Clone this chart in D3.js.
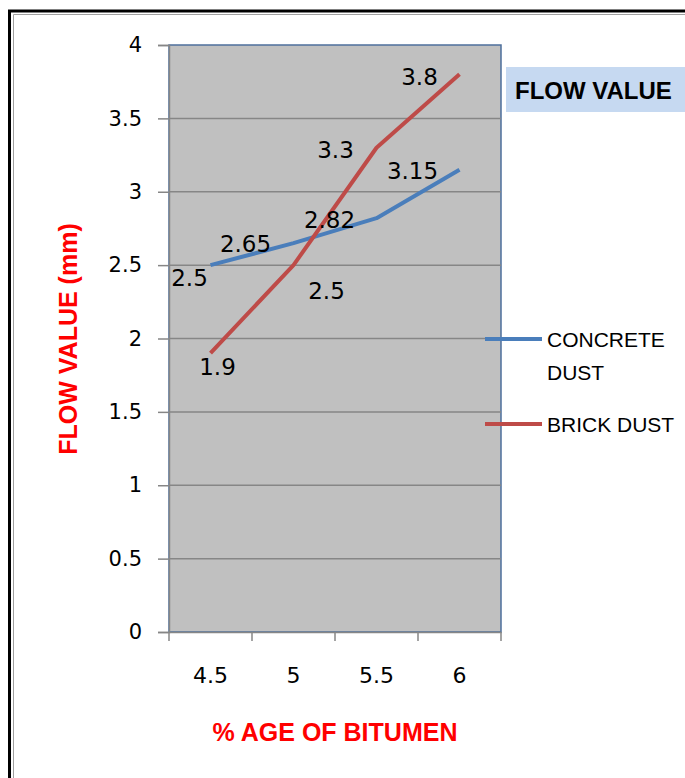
<!DOCTYPE html>
<html>
<head>
<meta charset="utf-8">
<script src="https://cdn.jsdelivr.net/npm/d3@7"></script>
<style>
  body { margin: 0; background: #fff; }
  svg { display: block; }
</style>
</head>
<body>
<div id="chart"></div>
<script>
var categories = ["4.5", "5", "5.5", "6"];
var concreteDust = [2.5, 2.65, 2.82, 3.15];
var brickDust = [1.9, 2.5, 3.3, 3.8];
var yTicks = [0, 0.5, 1, 1.5, 2, 2.5, 3, 3.5, 4];
var seriesNames = ["CONCRETE DUST", "BRICK DUST"];

// label offsets (px) relative to each point
var concreteLabelOffset = [[-21, 13], [-48, 1], [-47, 2], [-47, 1]];
var brickLabelOffset = [[7, 14], [33, 26], [-41, 2], [-40, 3]];

var width = 685, height = 778;
var plot = { left: 169, right: 501, top: 45, bottom: 632 };

var svg = d3.select("#chart").append("svg")
  .attr("width", width)
  .attr("height", height);

// frame
svg.append("path")
  .attr("d", "M9.5," + height + " V11 H" + width)
  .attr("fill", "none")
  .attr("stroke", "#000")
  .attr("stroke-width", 3);
svg.append("path")
  .attr("d", "M13.5," + height + " V14.5 H" + width)
  .attr("fill", "none")
  .attr("stroke", "#a0a0a0")
  .attr("stroke-width", 1);

var x = d3.scaleBand()
  .domain(categories)
  .range([plot.left, plot.right])
  .padding(0);

var y = d3.scaleLinear()
  .domain([0, 4])
  .range([plot.bottom, plot.top]);

// plot area
svg.append("rect")
  .attr("x", plot.left)
  .attr("y", plot.top)
  .attr("width", plot.right - plot.left)
  .attr("height", plot.bottom - plot.top)
  .attr("fill", "#c0c0c0")
  .attr("stroke", "#4d6f9c")
  .attr("stroke-width", 1.5);

// gridlines
svg.append("g")
  .selectAll("line")
  .data(yTicks.filter(function(d) { return d > 0 && d < 4; }))
  .enter().append("line")
  .attr("x1", plot.left)
  .attr("x2", plot.right)
  .attr("y1", function(d) { return y(d); })
  .attr("y2", function(d) { return y(d); })
  .attr("stroke", "#868686")
  .attr("stroke-width", 1.5);

// y axis
var yAxis = svg.append("g")
  .attr("transform", "translate(" + plot.left + ",0)")
  .call(d3.axisLeft(y).tickValues(yTicks).tickSize(11).tickPadding(16)
    .tickFormat(function(d) { return d; }));
yAxis.select(".domain").attr("stroke", "#868686").attr("stroke-width", 1.5);
yAxis.selectAll(".tick line").attr("stroke", "#868686").attr("stroke-width", 1.5);
yAxis.selectAll(".tick text")
  .attr("fill", "#000")
  .style("font-family", "DejaVu Sans")
  .style("font-size", "21px");

// x axis
var xAxis = svg.append("g")
  .attr("transform", "translate(0," + plot.bottom + ")")
  .call(d3.axisBottom(x).tickSize(0).tickPadding(35));
xAxis.select(".domain").attr("stroke", "#868686").attr("stroke-width", 1.5);
xAxis.selectAll(".tick text")
  .attr("fill", "#000")
  .style("font-family", "DejaVu Sans")
  .style("font-size", "22px");

var edges = categories.map(function(c) { return x(c); }).concat([x(categories[3]) + x.bandwidth()]);
xAxis.selectAll(".edge")
  .data(edges)
  .enter().append("line")
  .attr("class", "edge")
  .attr("x1", function(d) { return d; })
  .attr("x2", function(d) { return d; })
  .attr("y1", 0)
  .attr("y2", 9)
  .attr("stroke", "#868686")
  .attr("stroke-width", 1.5);

// lines
var line = d3.line()
  .x(function(d, i) { return x(categories[i]) + x.bandwidth() / 2; })
  .y(function(d) { return y(d); });

var series = [
  { name: seriesNames[0], values: concreteDust, color: "#4a7ebb", offs: concreteLabelOffset },
  { name: seriesNames[1], values: brickDust, color: "#be4b48", offs: brickLabelOffset }
];

series.forEach(function(s) {
  svg.append("path")
    .datum(s.values)
    .attr("d", line)
    .attr("fill", "none")
    .attr("stroke", s.color)
    .attr("stroke-width", 4)
    .attr("stroke-linejoin", "round");
});

series.forEach(function(s) {
  svg.append("g")
    .selectAll("text")
    .data(s.values)
    .enter().append("text")
    .attr("x", function(d, i) { return x(categories[i]) + x.bandwidth() / 2 + s.offs[i][0]; })
    .attr("y", function(d, i) { return y(d) + s.offs[i][1]; })
    .attr("text-anchor", "middle")
    .attr("dominant-baseline", "central")
    .style("font-family", "DejaVu Sans")
    .style("font-size", "23px")
    .attr("fill", "#000")
    .text(function(d) { return d; });
});

// legend title box
svg.append("rect")
  .attr("x", 506)
  .attr("y", 67)
  .attr("width", width - 506)
  .attr("height", 45)
  .attr("fill", "#c6d9f1");
svg.append("text")
  .attr("x", 515)
  .attr("y", 90)
  .attr("dominant-baseline", "central")
  .style("font-family", "Liberation Sans")
  .style("font-weight", "bold")
  .style("font-size", "24px")
  .attr("fill", "#000")
  .text("FLOW VALUE");

// legend
var legendY = [339, 424];
series.forEach(function(s, i) {
  svg.append("line")
    .attr("x1", 485).attr("x2", 542)
    .attr("y1", legendY[i]).attr("y2", legendY[i])
    .attr("stroke", s.color)
    .attr("stroke-width", 4);
  var words = s.name === "CONCRETE DUST" ? ["CONCRETE", "DUST"] : [s.name];
  words.forEach(function(w, j) {
    svg.append("text")
      .attr("x", 547)
      .attr("y", legendY[i] + j * 33)
      .attr("dominant-baseline", "central")
      .style("font-family", "Liberation Sans")
      .style("font-size", "21px")
      .attr("fill", "#000")
      .text(w);
  });
});

// axis titles
svg.append("text")
  .attr("x", 335)
  .attr("y", 732)
  .attr("text-anchor", "middle")
  .attr("dominant-baseline", "central")
  .style("font-family", "Liberation Sans")
  .style("font-weight", "bold")
  .style("font-size", "25px")
  .attr("fill", "#ff0000")
  .text("% AGE OF BITUMEN");

svg.append("text")
  .attr("transform", "translate(68,339) rotate(-90)")
  .attr("text-anchor", "middle")
  .attr("dominant-baseline", "central")
  .style("font-family", "Liberation Sans")
  .style("font-weight", "bold")
  .style("font-size", "25px")
  .attr("fill", "#ff0000")
  .text("FLOW VALUE (mm)");
</script>
</body>
</html>
